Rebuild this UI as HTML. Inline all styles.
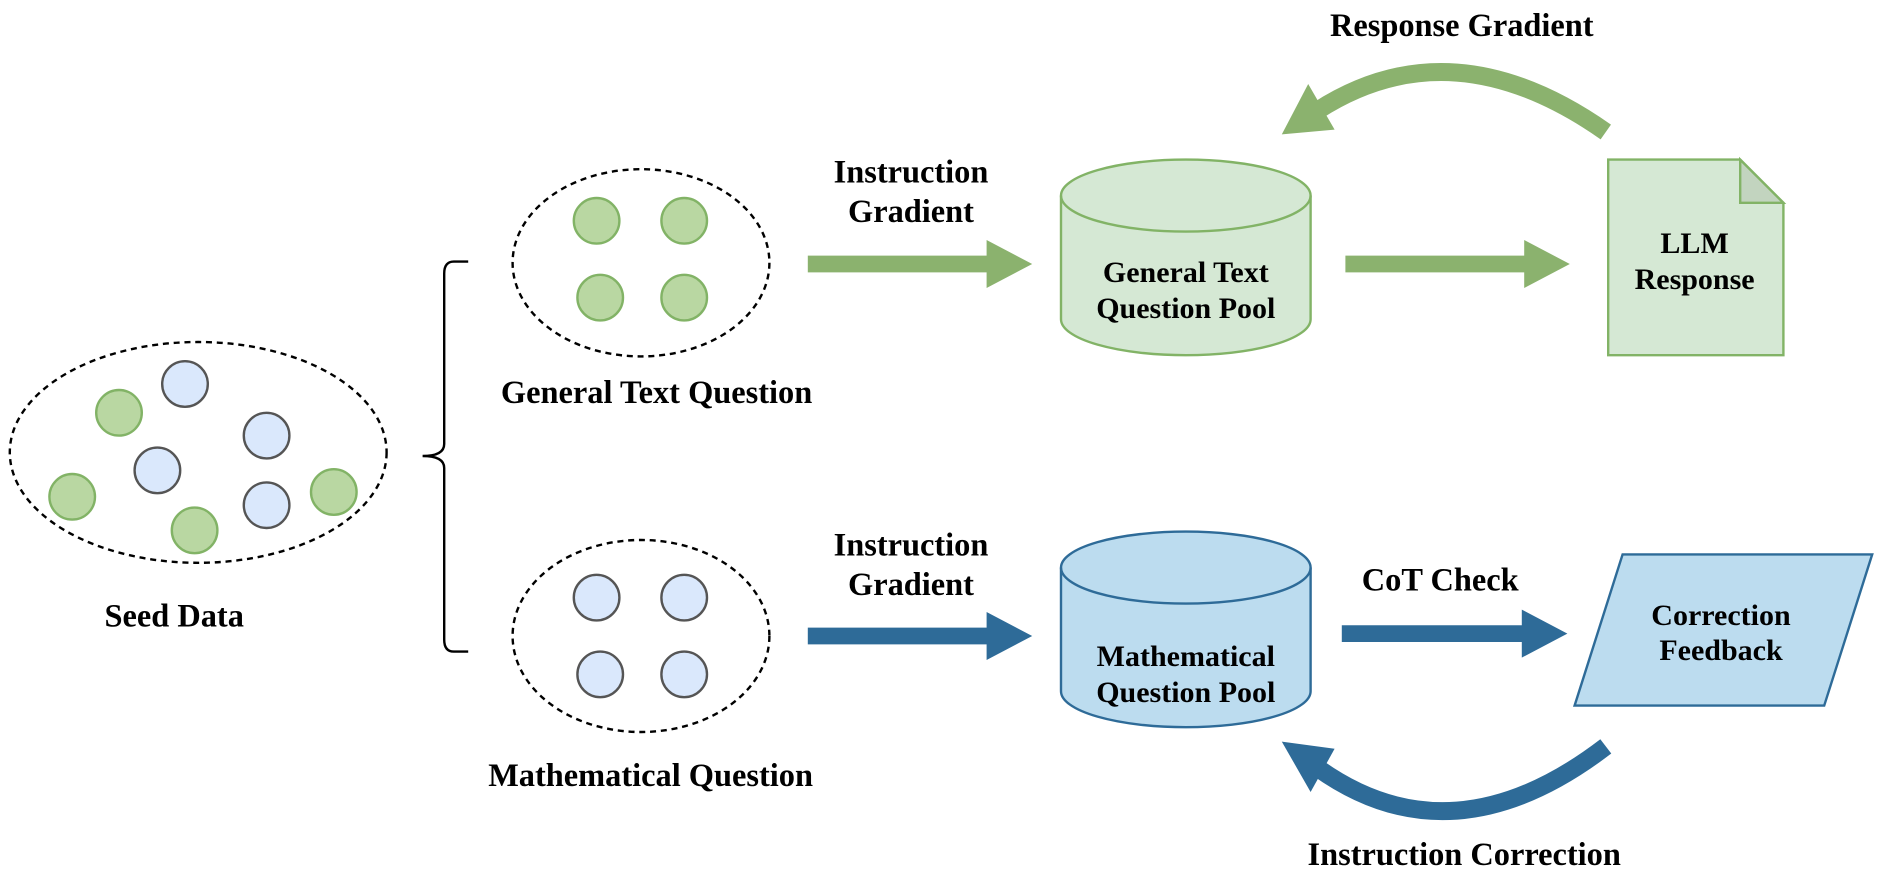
<!DOCTYPE html>
<html><head><meta charset="utf-8"><style>html,body{margin:0;padding:0;background:#fff}svg{display:block}</style></head>
<body>
<svg width="1882" height="888" viewBox="0 0 1568 740" xmlns="http://www.w3.org/2000/svg" font-family="'Liberation Serif', serif" font-weight="bold" font-size="27" text-anchor="middle">
<g fill="none" stroke="#000" stroke-width="2" stroke-dasharray="5,4">
<ellipse cx="165" cy="377" rx="157" ry="92"/>
<ellipse cx="534" cy="219" rx="107" ry="78"/>
<ellipse cx="534" cy="530" rx="107" ry="80"/>
</g>
<g stroke-width="2">
<g fill="#b9d7a2" stroke="#82b366">
<circle cx="99" cy="344" r="19"/><circle cx="60" cy="414" r="19"/><circle cx="162" cy="442" r="19"/><circle cx="278" cy="410" r="19"/>
<circle cx="497" cy="184" r="19"/><circle cx="570" cy="184" r="19"/><circle cx="500" cy="248" r="19"/><circle cx="570" cy="248" r="19"/>
</g>
<g fill="#dae8fc" stroke="#555">
<circle cx="154" cy="320" r="19"/><circle cx="131" cy="392" r="19"/><circle cx="222" cy="363" r="19"/><circle cx="222" cy="421" r="19"/>
<circle cx="497" cy="498" r="19"/><circle cx="570" cy="498" r="19"/><circle cx="500" cy="562" r="19"/><circle cx="570" cy="562" r="19"/>
</g>
</g>
<path d="M390,218 L378,218 Q370,218 370,228 L370,370 Q370,380 352,380 Q370,380 370,390 L370,533 Q370,543 378,543 L390,543" fill="none" stroke="#000" stroke-width="2"/>
<path d="M884,163 A104,30 0 0 1 1092,163 L1092,266 A104,30 0 0 1 884,266 Z" fill="#d5e8d4" stroke="#82b366" stroke-width="2"/>
<path d="M884,163 A104,30 0 0 0 1092,163" fill="none" stroke="#82b366" stroke-width="2"/>
<path d="M884,473 A104,30 0 0 1 1092,473 L1092,576 A104,30 0 0 1 884,576 Z" fill="#bcdcef" stroke="#2e6b98" stroke-width="2"/>
<path d="M884,473 A104,30 0 0 0 1092,473" fill="none" stroke="#2e6b98" stroke-width="2"/>
<path d="M1340,133 L1450,133 L1486,169 L1486,296 L1340,296 Z" fill="#d5e8d4" stroke="#82b366" stroke-width="2"/>
<path d="M1450,133 L1450,169 L1486,169 Z" fill="#c2d4bf" stroke="#82b366" stroke-width="2"/>
<path d="M1352,462 L1560,462 L1520,588 L1312,588 Z" fill="#bcdcef" stroke="#2e6b98" stroke-width="2"/>
<g fill="#8bb26e">
<path d="M673,213 L822,213 L822,200 L860,220 L822,240 L822,227 L673,227 Z"/>
<path d="M1121,213 L1270,213 L1270,200 L1308,220 L1270,240 L1270,227 L1121,227 Z"/>
</g>
<g fill="#2e6b98">
<path d="M673,523 L822,523 L822,510 L860,530 L822,550 L822,537 L673,537 Z"/>
<path d="M1118,521 L1268,521 L1268,508 L1306,528 L1268,548 L1268,535 L1118,535 Z"/>
</g>
<path d="M1338,110 Q1210,20 1098,92" fill="none" stroke="#8bb26e" stroke-width="15"/>
<path d="M1068,112 L1090,70 L1112,108 Z" fill="#8bb26e"/>
<path d="M1338,622 Q1210,720 1098,640" fill="none" stroke="#2e6b98" stroke-width="15"/>
<path d="M1068,618 L1112,624 L1092,660 Z" fill="#2e6b98"/>
<g fill="#000">
<text x="145" y="522">Seed Data</text>
<text x="547" y="336">General Text Question</text>
<text x="542" y="655">Mathematical Question</text>
<text x="759" y="152">Instruction</text>
<text x="759" y="185">Gradient</text>
<text x="759" y="463">Instruction</text>
<text x="759" y="496">Gradient</text>
<text x="1200" y="492">CoT Check</text>
<text x="1218" y="30">Response Gradient</text>
<text x="1220" y="721">Instruction Correction</text>
<text x="988" y="235" font-size="25">General Text</text>
<text x="988" y="265" font-size="25">Question Pool</text>
<text x="988" y="555" font-size="25">Mathematical</text>
<text x="988" y="585" font-size="25">Question Pool</text>
<text x="1412" y="211" font-size="25">LLM</text>
<text x="1412" y="241" font-size="25">Response</text>
<text x="1434" y="521" font-size="25">Correction</text>
<text x="1434" y="550" font-size="25">Feedback</text>
</g>
</svg>
</body></html>
